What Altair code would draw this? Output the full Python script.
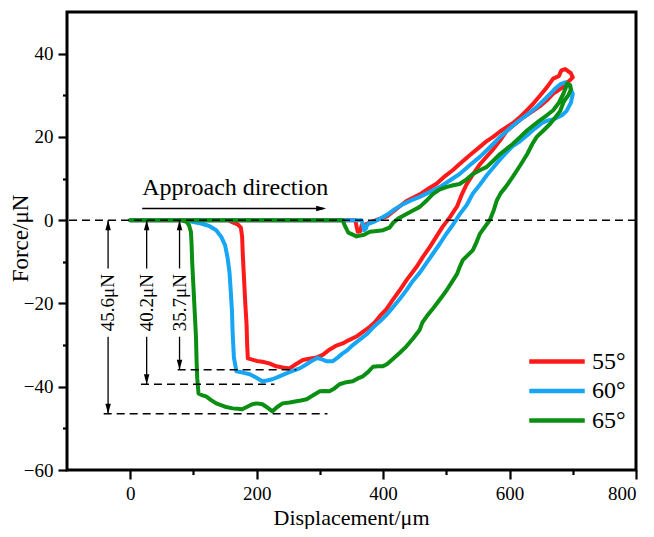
import altair as alt
import pandas as pd

FONT = "Liberation Serif, Times New Roman, serif"

# ---------------- data ----------------
series_labels = ["55°", "60°", "65°"]
series_colors = ["#ff1a1a", "#17a6f5", "#0b8f12"]

x55 = [0, 100, 200, 300, 356, 358, 360, 364, 366, 372, 379,
       392, 406, 420, 437, 458, 472, 485, 498, 510, 521, 537, 553, 564, 574, 585, 596, 606, 616, 628, 637, 648, 659, 669, 678, 682, 688, 697, 700, 694, 690,
       685, 677, 669, 659, 648, 635, 621, 608, 596, 585, 574, 564, 553, 542, 532, 524, 517, 506, 494, 484, 474, 463, 453, 445, 437, 426, 415, 405, 395, 387, 379, 368, 357, 346, 336, 325, 315, 305, 295, 283, 273, 262, 252, 241, 231, 220, 209, 200, 193, 186,
       185, 184, 182, 180, 178, 177, 175, 170, 163, 155, 140]
y55 = [0, 0, 0, 0, 0, -1.5, -2.8, -2.6, -1.2, -1.0, -0.6,
       0.2, 0.9, 2.6, 4.6, 6.2, 7.6, 8.8, 10.6, 12.0, 13.5, 15.6, 17.6, 19.0, 20.0, 21.3, 22.4, 23.4, 24.7, 26.5, 27.9, 29.9, 31.9, 34.0, 34.6, 36.0, 36.3, 35.3, 34.3, 33.4, 33.0,
       32.0, 31.2, 30.4, 28.8, 27.4, 26.0, 24.6, 23.0, 21.5, 19.2, 17.0, 15.3, 13.4, 11.0, 8.6, 6.0, 3.3, 0.8, -1.6, -4.0, -6.4, -8.8, -11.2, -12.8, -14.4, -16.9, -19.2, -21.4, -23.0, -24.5, -25.6, -26.8, -28.0, -28.8, -29.6, -30.2, -31.1, -32.3, -33.0, -33.3, -33.6, -34.6, -35.6, -35.4, -35.1, -34.4, -34.0, -33.8, -33.5, -33.2,
       -30, -25, -20, -14, -8, -4, -1.8, -1.0, -0.6, 0, 0]

x60 = [0, 100, 200, 300, 366, 368, 370, 373, 375,
       385, 396, 406, 418, 431, 445, 458, 474, 490, 506, 521, 537, 553, 564, 574, 585, 596, 606, 616, 630, 643, 654, 664, 672, 680, 688, 695, 700,
       697, 690, 683, 675, 669, 659, 650, 640, 628, 616, 605, 596, 585, 574, 564, 553, 542, 532, 521, 510, 499, 490, 479, 469, 458, 447, 437, 426, 415, 405, 395, 384, 374, 363, 352, 342, 336, 328, 320, 311, 303, 296, 287, 279, 268, 257, 247, 236, 225, 216, 209, 199, 189, 178, 168,
       164, 162, 161, 159, 157, 154, 150, 144, 136, 125, 112, 98, 85, 60]
y60 = [0, 0, 0, 0, 0, -1.2, -2.4, -2.0, -1.0,
       -0.4, 0.4, 1.3, 2.6, 3.8, 4.8, 5.6, 6.8, 8.0, 9.6, 11.1, 13.2, 15.2, 16.8, 18.3, 20.0, 21.5, 22.8, 24.0, 25.6, 27.2, 28.8, 30.3, 31.6, 32.6, 33.1, 32.2, 30.3,
       28.2, 26.2, 25.2, 24.6, 24.2, 23.9, 23.2, 22.0, 20.4, 18.9, 17.8, 16.4, 14.6, 12.6, 10.8, 8.5, 6.4, 3.6, 1.4, -1.2, -3.5, -5.6, -8.0, -10.2, -12.6, -14.6, -16.8, -19.0, -21.0, -22.8, -24.3, -25.8, -27.4, -28.7, -30.0, -31.4, -32.0, -33.0, -33.9, -33.9, -33.4, -33.1, -33.8, -34.6, -35.6, -36.2, -36.8, -37.5, -38.2, -38.5, -38.7, -37.8, -37.0, -36.6, -36.3,
       -33.0, -27, -22.0, -17, -12.5, -9.0, -6.0, -4.0, -2.4, -1.4, -0.8, -0.4, 0, 0]

x65 = [0, 100, 200, 300, 336, 340, 345, 358, 370, 379, 390, 400, 410, 416, 426,
       437, 448, 458, 468, 479, 490, 501, 511, 521, 532, 542, 553, 564, 575, 585, 596, 605, 617, 628, 638, 648, 659, 669, 678, 685, 689, 691, 696, 697,
       693, 688, 685, 682, 680, 672, 664, 654, 643, 636, 628, 617, 605, 594, 586, 580, 575, 569, 561, 553, 548, 542, 534, 526, 521, 517, 509, 501, 493, 485, 477, 469, 462, 458, 448, 437, 426, 415, 406, 399, 392, 384, 376, 368, 360, 352, 342, 331, 323, 315, 308, 300, 290, 279, 270, 263, 252, 241, 233, 225, 217, 209, 200, 193, 185, 177, 170, 162, 150, 136, 128, 120, 113, 108,
       106, 105, 104, 102, 100, 98, 97, 96, 93, 89, 80, 60]
y65 = [0, 0, 0, 0, 0, -1.5, -3.0, -3.9, -3.5, -2.8, -2.6, -2.4, -1.8, -0.6, 0.6,
       1.5, 2.4, 3.2, 4.6, 6.3, 7.4, 8.0, 8.4, 8.7, 9.8, 11.1, 12.0, 12.8, 14.4, 15.9, 17.2, 18.3, 20.0, 21.6, 22.8, 24.0, 25.2, 26.4, 28.2, 30.3, 31.8, 32.8, 32.4, 31.4,
       30.0, 29.0, 28.2, 27.0, 26.2, 24.6, 23.1, 21.6, 20.0, 18.3, 15.9, 13.2, 10.4, 8.0, 6.5, 4.8, 2.4, 0.1, -1.6, -3.3, -5.2, -7.2, -8.4, -9.6, -11.3, -12.9, -14.8, -16.7, -18.4, -20.0, -21.6, -23.1, -24.6, -26.3, -28.3, -30.3, -31.9, -33.4, -34.6, -35.1, -35.1, -35.2, -36.5, -37.5, -38.0, -38.7, -38.9, -39.4, -40.4, -41.1, -41.0, -41.1, -42.0, -43.0, -43.3, -43.5, -43.8, -44.0, -44.8, -45.9, -45.0, -44.2, -44.0, -44.2, -44.8, -45.4, -45.3, -45.2, -44.8, -44.0, -43.2, -42.3, -42.0, -41.6,
       -38, -34.0, -28, -22.0, -16, -10.0, -5.5, -2.8, -1.2, -0.4, 0, 0]

# tick values
x_ticks = [0, 100, 200, 300, 400, 500, 600, 700, 800]
y_ticks = [-60, -50, -40, -30, -20, -10, 0, 10, 20, 30, 40]

# adhesion annotations
adh_labels = ["45.6μN", "40.2μN", "35.7μN"]
adh_x = [-35, 26, 78]
adh_level = [-46.5, -39.4, -35.9]
adh_dash_start = [-42, 17, 75]
adh_dash_end = [312, 228, 263]
adh_text_y = -19.8
adh_gap_top = -11.6
adh_gap_bottom = -28.0

approach_text = "Approach direction"
approach_text_x = 166
approach_text_y = 7.8
approach_arrow_x = [19, 310]
approach_arrow_y = 2.8

# ---------------- build tables ----------------
rows = []
for lab, xs, ys in zip(series_labels, [x55, x60, x65], [y55, y60, y65]):
    for i, (a, b) in enumerate(zip(xs, ys)):
        rows.append({"series": lab, "x": a, "y": b, "order": i})
curves_df = pd.DataFrame(rows)

adh_df = pd.DataFrame({
    "label": adh_labels, "x": adh_x, "level": adh_level,
    "xs": adh_dash_start, "xe": adh_dash_end,
    "ty": [adh_text_y] * 3, "gt": [adh_gap_top] * 3, "gb": [adh_gap_bottom] * 3,
    "zero": [0] * 3,
})

xscale = alt.Scale(domain=[-100, 800], nice=False, zero=False)
yscale = alt.Scale(domain=[-60, 50], nice=False, zero=False)

xaxis = alt.Axis(
    values=x_ticks,
    labelExpr="datum.value % 200 === 0 ? datum.label : ''",
    tickSize={"condition": {"test": "datum.value % 200 === 0", "value": 9}, "value": 4.5},
    tickWidth=2.2, tickColor="black", domain=False, grid=False,
    labelFont=FONT, labelFontSize=19, labelColor="black", labelPadding=5,
    title="Displacement/μm", titleFont=FONT, titleFontSize=22, titleFontWeight="normal",
    titleColor="black", titleX=284, titleY=54, titleBaseline="alphabetic", titleAlign="center",
)
yaxis = alt.Axis(
    values=y_ticks,
    labelExpr="datum.value % 20 === 0 ? datum.label : ''",
    tickSize={"condition": {"test": "datum.value % 20 === 0", "value": 9}, "value": 4.5},
    tickWidth=2.2, tickColor="black", domain=False, grid=False,
    labelFont=FONT, labelFontSize=19, labelColor="black", labelPadding=5,
    title="Force/μN", titleFont=FONT, titleFontSize=23, titleFontWeight="normal",
    titleColor="black", titleX=-47, titleY=226, titleAngle=270,
    titleBaseline="middle", titleAlign="center",
)

X = lambda f: alt.X(f, scale=xscale)
Y = lambda f: alt.Y(f, scale=yscale)

curves = alt.Chart(curves_df).mark_line(strokeWidth=4, strokeJoin="round", strokeCap="round").encode(
    x=alt.X("x:Q", scale=xscale, axis=xaxis),
    y=alt.Y("y:Q", scale=yscale, axis=yaxis),
    color=alt.Color("series:N", scale=alt.Scale(domain=series_labels, range=series_colors),
                    legend=alt.Legend(
                        title=None, orient="none", legendX=460, legendY=336,
                        symbolType="stroke", symbolSize=3080, symbolStrokeWidth=4.5,
                        labelFont=FONT, labelFontSize=24, labelColor="black",
                        labelOffset=5, clipHeight=27, rowPadding=2.5, padding=0,
                    )),
    order="order:Q",
)

zero_line = alt.Chart(pd.DataFrame({"y": [0]})).mark_rule(
    strokeDash=[8, 5], color="black", strokeWidth=1.5
).encode(y=Y("y:Q"))

adh_base = alt.Chart(adh_df)
dash_lines = adh_base.mark_rule(strokeDash=[8, 5], color="black", strokeWidth=1.5).encode(
    x=X("xs:Q"), x2="xe:Q", y=Y("level:Q"),
)
seg_top = adh_base.mark_rule(color="black", strokeWidth=1.3).encode(
    x=X("x:Q"), y=Y("zero:Q"), y2="gt:Q",
)
seg_bottom = adh_base.mark_rule(color="black", strokeWidth=1.3).encode(
    x=X("x:Q"), y=Y("gb:Q"), y2="level:Q",
)
head_up = adh_base.mark_point(shape="M0,0L-0.55,2L0.55,2Z", size=100, filled=True,
                              color="black", opacity=1).encode(
    x=X("x:Q"), y=Y("zero:Q"),
)
head_down = adh_base.mark_point(shape="M0,0L-0.55,-2L0.55,-2Z", size=100, filled=True,
                                color="black", opacity=1).encode(
    x=X("x:Q"), y=Y("level:Q"),
)
adh_text = adh_base.mark_text(font=FONT, fontSize=19, angle=270, align="center",
                              baseline="middle", color="black").encode(
    x=X("x:Q"), y=Y("ty:Q"), text="label:N",
)

appr_df = pd.DataFrame({"x": [approach_arrow_x[0]], "x2": [approach_arrow_x[1] - 4],
                        "xt": [approach_arrow_x[1]], "y": [approach_arrow_y],
                        "tx": [approach_text_x], "ty": [approach_text_y],
                        "label": [approach_text]})
appr_base = alt.Chart(appr_df)
appr_line = appr_base.mark_rule(color="black", strokeWidth=1.3).encode(
    x=X("x:Q"), x2="x2:Q", y=Y("y:Q"),
)
appr_head = appr_base.mark_point(shape="M0,0L-2,-0.55L-2,0.55Z", size=100, filled=True,
                                 color="black", opacity=1).encode(
    x=X("xt:Q"), y=Y("y:Q"),
)
appr_text = appr_base.mark_text(font=FONT, fontSize=24, align="center", baseline="middle",
                                color="black").encode(
    x=X("tx:Q"), y=Y("ty:Q"), text="label:N",
)

chart = alt.layer(
    curves, zero_line, dash_lines, seg_top, seg_bottom, head_up, head_down, adh_text,
    appr_line, appr_head, appr_text,
).properties(
    width=569, height=458,
    autosize=alt.AutoSizeParams(type="none"),
    padding={"left": 59, "top": 4, "right": 10, "bottom": 59},
    background="white",
).configure_view(stroke="black", strokeWidth=3)

chart.save("out.html", embed_options={"renderer": "svg", "actions": False})
